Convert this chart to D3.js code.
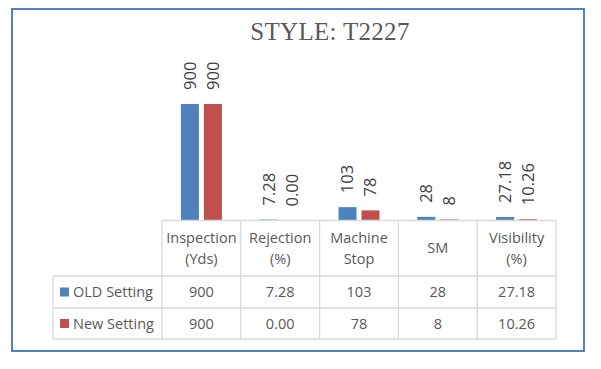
<!DOCTYPE html>
<html>
<head>
<meta charset="utf-8">
<script src="https://cdn.jsdelivr.net/npm/d3@7"></script>
<style>
  html, body { margin: 0; padding: 0; background: #fff; }
</style>
</head>
<body>
<div id="chart"></div>
<script>
// Chart data
const categories = ["Inspection (Yds)", "Rejection (%)", "Machine Stop", "SM", "Visibility (%)"];
const headerLines = [["Inspection", "(Yds)"], ["Rejection", "(%)"], ["Machine", "Stop"], ["SM"], ["Visibility", "(%)"]];
const seriesNames = ["OLD Setting", "New Setting"];
const oldValues = [900, 7.28, 103, 28, 27.18];
const newValues = [900, 0.00, 78, 8, 10.26];
const decimals = [0, 2, 0, 0, 2];
const yTicks = [0, 1000];

const width = 601, height = 369;
const colors = { "OLD Setting": "#4F81BD", "New Setting": "#C0504D" };
const textColor = "#595959";
const gridColor = "#D9D9D9";

const svg = d3.select("#chart").append("svg")
  .attr("width", width)
  .attr("height", height);

// Outer border
svg.append("rect")
  .attr("x", 12).attr("y", 9)
  .attr("width", 572).attr("height", 342)
  .attr("fill", "none")
  .attr("stroke", "#4F81BD")
  .attr("stroke-width", 2);

// Title
svg.append("text")
  .attr("x", 330)
  .attr("y", 40)
  .attr("text-anchor", "middle")
  .attr("fill", textColor)
  .style("font-family", "'Liberation Serif', serif")
  .style("font-size", "25px")
  .style("letter-spacing", "0.3px")
  .text("STYLE: T2227");

// Scales
const tableLeft = 162, tableRight = 556, legendLeft = 53;
const plotTop = 91, baseY = 220.5;
const rowY = [baseY, 276, 308, 339];

const x = d3.scaleBand()
  .domain(categories)
  .range([tableLeft, tableRight]);

const xs = d3.scaleBand()
  .domain(seriesNames)
  .range([-20.5, 20.5])
  .paddingInner(0.217);

const y = d3.scaleLinear()
  .domain(d3.extent(yTicks))
  .range([baseY, plotTop]);

const rows = seriesNames.map((s, i) => ({
  name: s,
  values: i === 0 ? oldValues : newValues
}));

const barData = [];
rows.forEach(r => r.values.forEach((v, j) => barData.push({ series: r.name, cat: categories[j], value: v, dec: decimals[j] })));

// Bars
svg.append("g")
  .selectAll("rect")
  .data(barData)
  .join("rect")
  .attr("x", d => x(d.cat) + x.bandwidth() / 2 + xs(d.series))
  .attr("y", d => y(d.value))
  .attr("width", xs.bandwidth())
  .attr("height", d => y(0) - y(d.value))
  .attr("fill", d => colors[d.series]);

// Rotated value labels
svg.append("g")
  .selectAll("text")
  .data(barData)
  .join("text")
  .attr("transform", d => {
    const cx = x(d.cat) + x.bandwidth() / 2 + xs(d.series) + xs.bandwidth() / 2;
    return `translate(${cx},${y(d.value) - 14}) rotate(-90)`;
  })
  .attr("dy", "0.36em")
  .attr("fill", "#404040")
  .style("font-family", "'Open Sans', sans-serif")
  .style("font-size", "16.5px")
  .text(d => d.value.toFixed(d.dec));

// Table grid
const grid = svg.append("g")
  .attr("stroke", gridColor)
  .attr("stroke-width", 1.3);

grid.append("line")
  .attr("x1", tableLeft).attr("x2", tableRight)
  .attr("y1", rowY[0]).attr("y2", rowY[0]);

rowY.slice(1).forEach(yy => {
  grid.append("line")
    .attr("x1", legendLeft).attr("x2", tableRight)
    .attr("y1", yy).attr("y2", yy);
});

categories.forEach(c => {
  grid.append("line")
    .attr("x1", x(c)).attr("x2", x(c))
    .attr("y1", rowY[0]).attr("y2", rowY[3]);
});
grid.append("line")
  .attr("x1", tableRight).attr("x2", tableRight)
  .attr("y1", rowY[0]).attr("y2", rowY[3]);
grid.append("line")
  .attr("x1", legendLeft).attr("x2", legendLeft)
  .attr("y1", rowY[1]).attr("y2", rowY[3]);

const tableFont = t => t
  .attr("fill", textColor)
  .style("font-family", "'Open Sans', sans-serif")
  .style("font-size", "14.5px");

// Header cells
categories.forEach((c, i) => {
  const lines = headerLines[i];
  const cy = (rowY[0] + rowY[1]) / 2;
  lines.forEach((ln, k) => {
    svg.append("text")
      .attr("x", x(c) + x.bandwidth() / 2)
      .attr("y", cy + (k - (lines.length - 1) / 2) * 21)
      .attr("dy", "0.36em")
      .attr("text-anchor", "middle")
      .call(tableFont)
      .text(ln);
  });
});

// Data rows with legend keys
rows.forEach((r, i) => {
  const cy = (rowY[i + 1] + rowY[i + 2]) / 2;
  svg.append("rect")
    .attr("x", 60).attr("y", cy - 4.5)
    .attr("width", 9).attr("height", 9)
    .attr("fill", colors[r.name]);
  svg.append("text")
    .attr("x", 73)
    .attr("y", cy)
    .attr("dy", "0.36em")
    .call(tableFont)
    .text(r.name);
  r.values.forEach((v, j) => {
    svg.append("text")
      .attr("x", x(categories[j]) + x.bandwidth() / 2)
      .attr("y", cy)
      .attr("dy", "0.36em")
      .attr("text-anchor", "middle")
      .call(tableFont)
      .text(v.toFixed(decimals[j]));
  });
});
</script>
</body>
</html>
